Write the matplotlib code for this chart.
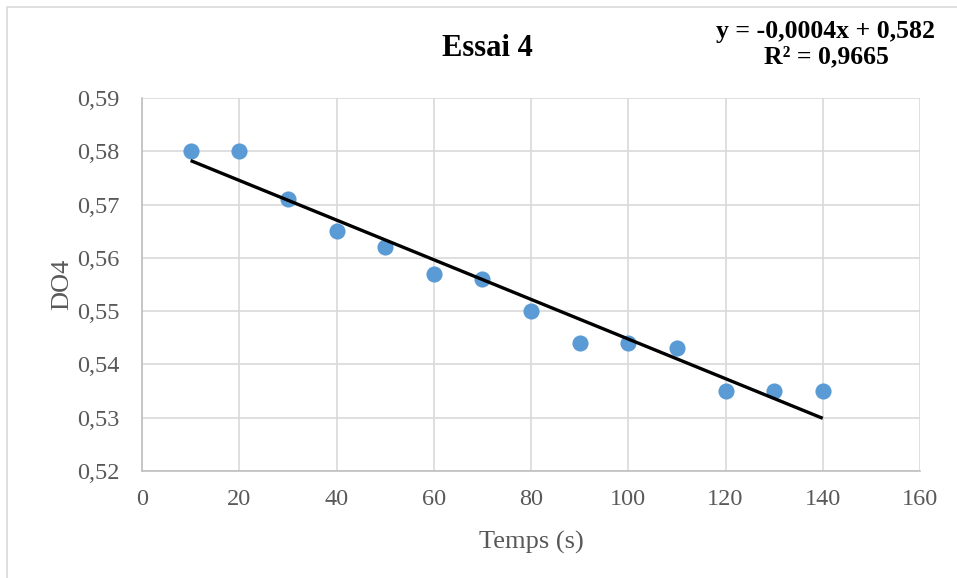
import numpy as np
import matplotlib
matplotlib.use("Agg")
import matplotlib.pyplot as plt
from matplotlib.ticker import FuncFormatter, MultipleLocator
from matplotlib.patches import Rectangle

# Measurements: time (s) and optical density
temps = [10, 20, 30, 40, 50, 60, 70, 80, 90, 100, 110, 120, 130, 140]
do4 = [0.580, 0.580, 0.571, 0.565, 0.562, 0.557, 0.556, 0.550,
       0.544, 0.544, 0.543, 0.535, 0.535, 0.535]

title = "Essai 4"
xlabel = "Temps (s)"
ylabel = "DO4"

plt.rcParams["font.family"] = ["Liberation Serif", "DejaVu Serif"]

x = np.array(temps, dtype=float)
y = np.array(do4, dtype=float)
slope, intercept = np.polyfit(x, y, 1)
fit = slope * x + intercept
r2 = 1 - np.sum((y - fit) ** 2) / np.sum((y - y.mean()) ** 2)

fig = plt.figure(figsize=(9.57, 5.78), dpi=100)
# light chart-area border
fig.patches.append(Rectangle((7 / 957, -0.1), 1.2, 1 - 7 / 578 + 0.1,
                             transform=fig.transFigure, fill=False,
                             edgecolor="#d9d9d9", linewidth=1.2))

ax = fig.add_axes([142 / 957, 1 - 471 / 578, (920 - 142) / 957, (471 - 98) / 578])
ax.set_xlim(0, 160)
ax.set_ylim(0.52, 0.59)
ax.xaxis.set_major_locator(MultipleLocator(20))
ax.yaxis.set_major_locator(MultipleLocator(0.01))
ax.yaxis.set_major_formatter(FuncFormatter(lambda v, p: f"{v:.2f}".replace(".", ",")))
ax.xaxis.set_major_formatter(FuncFormatter(lambda v, p: f"{v:.0f}"))

ax.grid(True, color="#d9d9d9", linewidth=1.2)
ax.set_axisbelow(True)
for s in ("top", "right"):
    ax.spines[s].set_visible(False)
for s in ("left", "bottom"):
    ax.spines[s].set_color("#bfbfbf")
    ax.spines[s].set_linewidth(1.2)
ax.tick_params(axis="y", length=0, labelsize=17.5, labelcolor="#595959", pad=16)
ax.tick_params(axis="x", length=0, labelsize=17.5, labelcolor="#595959", pad=13)

ax.scatter(x, y, s=135, color="#5b9bd5", zorder=3, linewidths=0)
ax.plot([x[0], x[-1]], [slope * x[0] + intercept, slope * x[-1] + intercept],
        color="black", linewidth=2.4, solid_capstyle="butt", zorder=4)

ax.set_xlabel(xlabel, fontsize=19, color="#595959", labelpad=15)
ax.set_ylabel(ylabel, fontsize=19, color="#595959", labelpad=3)

fig.text(487 / 957, 1 - 48 / 578, title, ha="center", va="center",
         fontsize=22, fontweight="bold")
eq = (f"y = {slope:.4f}x + {intercept:.3f}".replace(".", ",")
      + "\n" + f"R² = {r2:.4f}".replace(".", ","))
fig.text(826 / 957, 1 - 44 / 578, eq, ha="center", va="center",
         fontsize=18.5, fontweight="bold", linespacing=1.1)

fig.savefig("out.png", dpi=100)
